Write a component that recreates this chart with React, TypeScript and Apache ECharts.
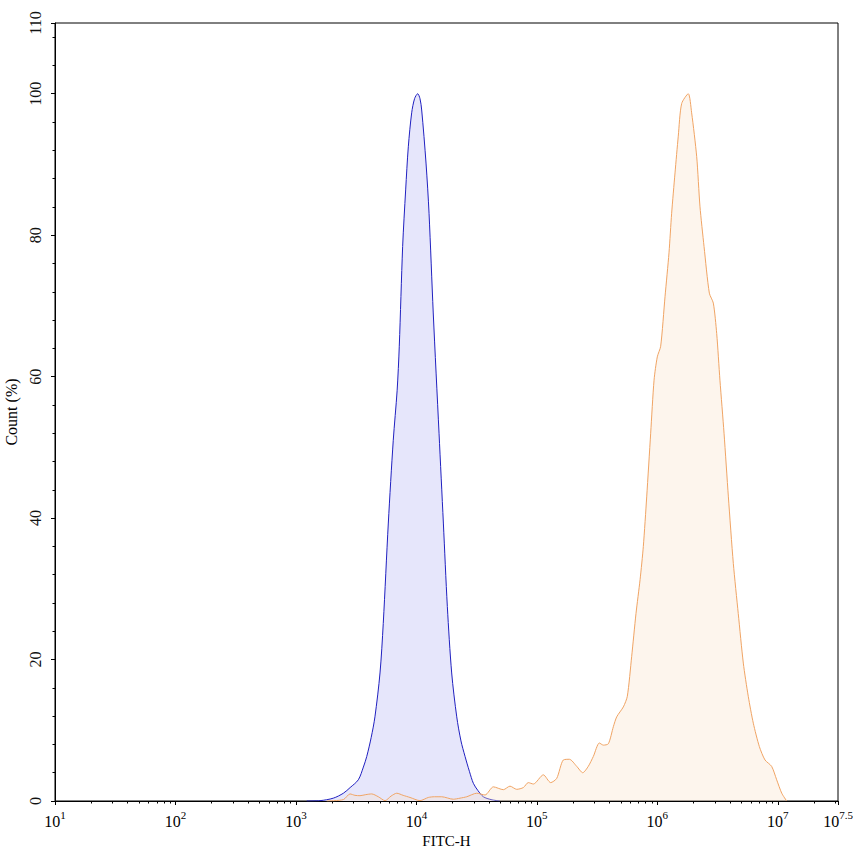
import React, { useEffect, useRef } from "react";
import * as echarts from "echarts";

// x values are log10(FITC-H)
const blueLog = [
  3.09, 3.2, 3.31, 3.394, 3.45, 3.518, 3.56, 3.588, 3.625, 3.656, 3.698, 3.725, 3.767, 3.808, 3.84,
  3.858, 3.886, 3.911, 3.933, 3.961, 3.985, 4.011, 4.03, 4.044, 4.08, 4.105, 4.14, 4.188, 4.224,
  4.257, 4.293, 4.335, 4.37, 4.404, 4.44, 4.473, 4.51, 4.556, 4.62, 4.69,
];
const blueCount = [
  0, 0.05, 0.4, 1.1, 1.9, 3.0, 4.8, 6.3, 9.0, 11.9, 18.1, 25.1, 39.3, 51.0, 58.0,
  64.3, 78.4, 86.4, 92.5, 97.3, 99.3, 100, 99.3, 97.7, 90.2, 83.1, 69.0, 52.0, 39.3,
  27.5, 18.1, 11.9, 8.5, 6.3, 4.2, 2.5, 1.5, 0.6, 0.2, 0,
];

const orangeLog = [
  3.256, 3.394, 3.449, 3.49, 3.532, 3.58, 3.629, 3.684, 3.74, 3.79, 3.837, 3.89, 3.947, 4.03, 4.099,
  4.15, 4.21, 4.307, 4.362, 4.418, 4.501, 4.57, 4.639, 4.722, 4.777, 4.833, 4.888, 4.929, 4.971,
  5.054, 5.115, 5.165, 5.22, 5.27, 5.331, 5.381, 5.427, 5.469, 5.519, 5.552, 5.594, 5.635, 5.663,
  5.718, 5.751, 5.787, 5.823, 5.857, 5.884, 5.912, 5.945, 5.973, 6.0, 6.028, 6.064, 6.097, 6.119,
  6.147, 6.174, 6.202, 6.257, 6.285, 6.327, 6.354, 6.388, 6.432, 6.465, 6.493, 6.52, 6.554, 6.59,
  6.631, 6.672, 6.714, 6.755, 6.797, 6.847, 6.894, 6.949, 6.991, 7.033, 7.074,
];
const orangeCount = [
  0, 0.2, 1.0, 0.8, 0.75, 0.9, 1.0, 0.6, 0.05, 0.7, 1.1, 0.8, 0.5, 0.05, 0.5,
  0.6, 0.6, 0.25, 0.4, 0.6, 1.1, 0.85, 2.0, 1.6, 2.1, 1.65, 1.9, 2.6, 2.4,
  3.7, 2.6, 3.2, 5.8, 5.9, 4.9, 4.0, 4.9, 6.3, 8.2, 7.9, 8.1, 10.5, 11.9,
  13.3, 14.8, 20.4, 26.5, 31.3, 36.0, 43.0, 52.0, 59.5, 62.8, 64.3, 71.3, 77.5, 83.1,
  88.8, 94.0, 98.6, 100, 97.3, 91.1, 84.1, 78.4, 71.8, 70.4, 66.1, 59.5, 52.0, 43.0,
  33.6, 26.5, 19.5, 14.8, 11.0, 7.7, 5.8, 4.9, 3.0, 1.1, 0,
];

const xMajorTicks = [1, 2, 3, 4, 5, 6, 7, 7.5];
const yMajorTicks = [0, 20, 40, 60, 80, 100, 110];

const FONT = "'Liberation Serif', 'Times New Roman', serif";

export default function App() {
  const ref = useRef<HTMLDivElement>(null);

  useEffect(() => {
    if (!ref.current) return;
    const chart = echarts.init(ref.current, null, { renderer: "svg" });

    const minorX: number[] = [];
    for (let n = 1; n <= 7; n++) {
      for (let k = 2; k <= 9; k++) {
        const v = n + Math.log10(k);
        if (v < 7.5) minorX.push(v);
      }
    }
    const minorY: number[] = [];
    for (let v = 4; v < 110; v += 4) if (v % 20 !== 0) minorY.push(v);

    const option: any = {
      animation: false,
      backgroundColor: "#fff",
      grid: {
        left: 55,
        right: 15,
        top: 23,
        bottom: 55,
        show: true,
        borderColor: "#000",
        borderWidth: 1,
        outerBoundsMode: "none",
      },
      xAxis: [
        {
          type: "value",
          min: 1,
          max: 7.5,
          interval: 1,
          position: "bottom",
          name: "FITC-H",
          nameLocation: "middle",
          nameGap: 32,
          nameTextStyle: { fontFamily: FONT, fontSize: 15, color: "#000" },
          axisLine: { show: true, lineStyle: { color: "#000", width: 1 } },
          axisTick: { show: true, length: 4, customValues: xMajorTicks, lineStyle: { color: "#000" } },
          splitLine: { show: false },
          axisLabel: {
            customValues: xMajorTicks,
            margin: 8,
            formatter: (v: number) => {
              const e = Number.isInteger(v) ? String(v) : v.toFixed(1);
              return `{b|10}{s|${e}}`;
            },
            rich: {
              b: { fontFamily: FONT, fontSize: 16, color: "#000", lineHeight: 20, verticalAlign: "bottom" },
              s: { fontFamily: FONT, fontSize: 11, color: "#000", lineHeight: 11, verticalAlign: "top" },
            },
          },
        },
        {
          type: "value",
          min: 1,
          max: 7.5,
          position: "bottom",
          axisLine: { show: false },
          axisLabel: { show: false },
          splitLine: { show: false },
          axisTick: { show: true, length: 2.5, customValues: minorX, lineStyle: { color: "#000" } },
        },
      ],
      yAxis: [
        {
          type: "value",
          min: 0,
          max: 110,
          interval: 20,
          position: "left",
          name: "Count (%)",
          nameLocation: "middle",
          nameGap: 33,
          nameTextStyle: { fontFamily: FONT, fontSize: 16, color: "#000" },
          axisLine: { show: true, lineStyle: { color: "#000", width: 1 } },
          axisTick: { show: true, length: 4, customValues: yMajorTicks, lineStyle: { color: "#000" } },
          splitLine: { show: false },
          axisLabel: {
            customValues: yMajorTicks,
            rotate: 90,
            margin: 12,
            fontFamily: FONT,
            fontSize: 16,
            color: "#111",
          },
        },
        {
          type: "value",
          min: 0,
          max: 110,
          position: "left",
          axisLine: { show: false },
          axisLabel: { show: false },
          splitLine: { show: false },
          axisTick: { show: true, length: 2.5, customValues: minorY, lineStyle: { color: "#000" } },
        },
      ],
      series: [
        {
          type: "line",
          xAxisIndex: 0,
          yAxisIndex: 0,
          data: blueLog.map((x, i) => [x, blueCount[i]]),
          symbol: "none",
          smooth: 0.3,
          lineStyle: { color: "#2020c0", width: 1 },
          areaStyle: { color: "#e6e6fb", opacity: 1 },
          z: 2,
        },
        {
          type: "line",
          xAxisIndex: 0,
          yAxisIndex: 0,
          data: orangeLog.map((x, i) => [x, orangeCount[i]]),
          symbol: "none",
          smooth: 0.25,
          lineStyle: { color: "#f0a464", width: 1 },
          areaStyle: { color: "rgba(250,225,198,0.32)", opacity: 1 },
          z: 3,
        },
      ],
    };

    chart.setOption(option);
    return () => chart.dispose();
  }, []);

  return (
    <div
      ref={ref}
      style={{ position: "absolute", left: 0, top: 0, width: 853, height: 856 }}
    />
  );
}
